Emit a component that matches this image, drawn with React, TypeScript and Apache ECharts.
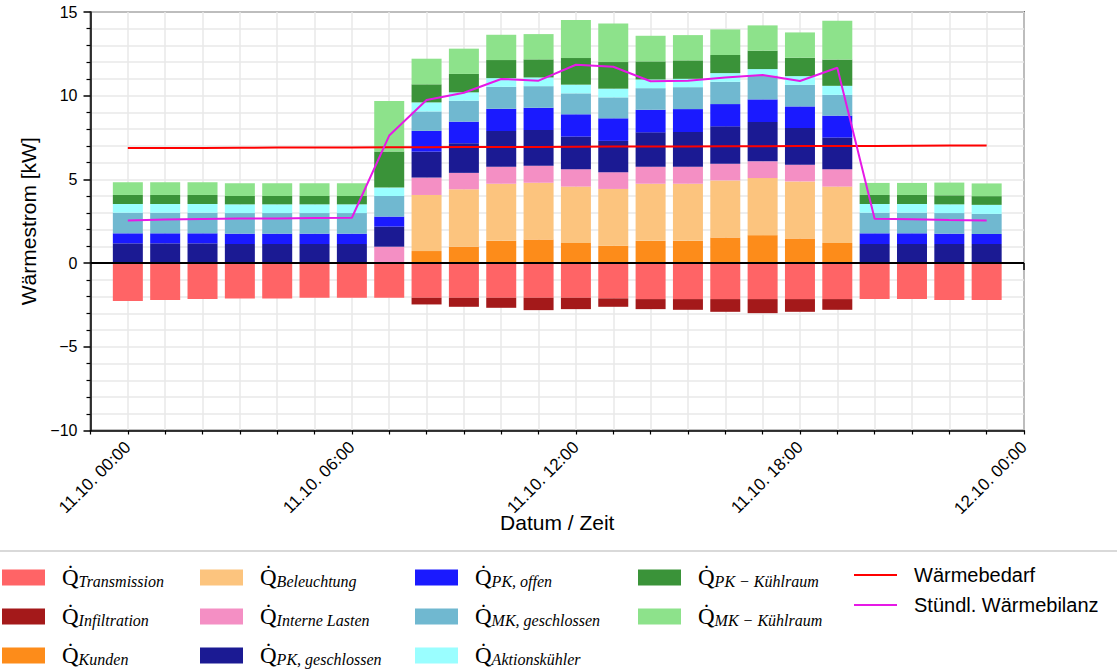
import React, { useEffect, useRef } from "react";
import * as echarts from "echarts";

// Stunden des Tages (11.10.), Balken je Stunde
const hours = [0, 1, 2, 3, 4, 5, 6, 7, 8, 9, 10, 11, 12, 13, 14, 15, 16, 17, 18, 19, 20, 21, 22, 23];

// Wärmeströme in kW
const transmission = [-2.27, -2.21, -2.15, -2.11, -2.11, -2.07, -2.07, -2.07, -2.07, -2.07, -2.07, -2.07, -2.07, -2.11, -2.15, -2.15, -2.15, -2.15, -2.15, -2.15, -2.15, -2.15, -2.21, -2.21];
const infiltration = [0, 0, 0, 0, 0, 0, 0, 0, -0.4, -0.54, -0.6, -0.74, -0.68, -0.5, -0.6, -0.64, -0.76, -0.84, -0.76, -0.64, 0, 0, 0, 0];
const kunden = [0, 0, 0, 0, 0, 0, 0, 0, 0.72, 0.98, 1.33, 1.41, 1.2, 1.04, 1.33, 1.33, 1.53, 1.67, 1.47, 1.2, 0, 0, 0, 0];
const beleuchtung = [0, 0, 0, 0, 0, 0, 0, 0, 3.35, 3.43, 3.41, 3.39, 3.37, 3.39, 3.41, 3.41, 3.41, 3.41, 3.41, 3.37, 0, 0, 0, 0];
const interneLasten = [0, 0, 0, 0, 0, 0, 0, 0.98, 1.04, 0.98, 1.02, 1.02, 1.04, 1.0, 1.02, 1.02, 1.0, 1.0, 1.0, 1.04, 0, 0, 0, 0];
const pkGeschlossen = [1.18, 1.18, 1.18, 1.14, 1.14, 1.14, 1.14, 1.2, 1.55, 1.77, 2.13, 2.13, 1.95, 1.87, 2.05, 2.07, 2.23, 2.35, 2.19, 1.89, 1.14, 1.14, 1.14, 1.14];
const pkOffen = [0.6, 0.6, 0.6, 0.62, 0.62, 0.62, 0.62, 0.6, 1.24, 1.29, 1.33, 1.33, 1.33, 1.35, 1.35, 1.37, 1.33, 1.35, 1.29, 1.31, 0.64, 0.64, 0.62, 0.6];
const mkGeschlossen = [1.23, 1.23, 1.23, 1.23, 1.23, 1.23, 1.23, 1.23, 1.16, 1.25, 1.31, 1.29, 1.25, 1.25, 1.29, 1.31, 1.33, 1.43, 1.29, 1.24, 1.23, 1.23, 1.23, 1.2];
const aktionskuehler = [0.52, 0.52, 0.52, 0.52, 0.52, 0.52, 0.52, 0.5, 0.54, 0.5, 0.52, 0.52, 0.52, 0.52, 0.52, 0.5, 0.52, 0.38, 0.52, 0.54, 0.52, 0.52, 0.52, 0.54];
const pkKuehlraum = [0.54, 0.54, 0.54, 0.5, 0.5, 0.5, 0.5, 2.15, 1.08, 1.1, 1.08, 1.08, 1.59, 1.59, 1.08, 1.1, 1.08, 1.1, 1.1, 1.57, 0.54, 0.54, 0.54, 0.52];
const mkKuehlraum = [0.76, 0.76, 0.76, 0.76, 0.76, 0.76, 0.76, 3.03, 1.53, 1.51, 1.51, 1.51, 2.27, 2.31, 1.53, 1.51, 1.53, 1.51, 1.51, 2.31, 0.72, 0.72, 0.76, 0.76];

const waermebedarf = [6.87, 6.88, 6.88, 6.89, 6.9, 6.9, 6.91, 6.92, 6.92, 6.93, 6.94, 6.94, 6.95, 6.96, 6.96, 6.97, 6.98, 6.98, 6.99, 7.0, 7.0, 7.01, 7.02, 7.03];
const waermebilanz = [2.55, 2.6, 2.63, 2.66, 2.67, 2.69, 2.71, 7.62, 9.74, 10.18, 11.0, 10.9, 11.85, 11.73, 10.86, 10.9, 11.08, 11.24, 10.88, 11.67, 2.65, 2.62, 2.58, 2.55];

// Achsbeschriftung der Zeitachse
const xTickHours = [0, 6, 12, 18, 24];
const xTickLabels = ["11.10. 00:00", "11.10. 06:00", "11.10. 12:00", "11.10. 18:00", "12.10. 00:00"];
const yTickValues = [-10, -5, 0, 5, 10, 15];

// Achse läuft von -1 h bis 24 h (eine Stunde Rand links)
const axisHours = [-1, ...hours, 24];
const axisCategories = axisHours.map(String);
const pad = (v: number[]) => [null, ...v, null];

type BarDef = { name: string; sub: string; color: string; values: number[] };

const barSeriesDefs: BarDef[] = [
  { name: "Transmission", sub: "Transmission", color: "#ff6466", values: transmission },
  { name: "Infiltration", sub: "Infiltration", color: "#a4191a", values: infiltration },
  { name: "Kunden", sub: "Kunden", color: "#fd8c1a", values: kunden },
  { name: "Beleuchtung", sub: "Beleuchtung", color: "#fcc47e", values: beleuchtung },
  { name: "Interne Lasten", sub: "Interne Lasten", color: "#f48fc4", values: interneLasten },
  { name: "PK, geschlossen", sub: "PK, geschlossen", color: "#1b1a93", values: pkGeschlossen },
  { name: "PK, offen", sub: "PK, offen", color: "#1a1aff", values: pkOffen },
  { name: "MK, geschlossen", sub: "MK, geschlossen", color: "#70b8d0", values: mkGeschlossen },
  { name: "Aktionskühler", sub: "Aktionskühler", color: "#9afeff", values: aktionskuehler },
  { name: "PK − Kühlraum", sub: "PK − Kühlraum", color: "#3a9339", values: pkKuehlraum },
  { name: "MK − Kühlraum", sub: "MK − Kühlraum", color: "#8de28b", values: mkKuehlraum },
];

const legendColumns = [
  { left: 2, names: ["Transmission", "Infiltration", "Kunden"] },
  { left: 200, names: ["Beleuchtung", "Interne Lasten", "PK, geschlossen"] },
  { left: 415, names: ["PK, offen", "MK, geschlossen", "Aktionskühler"] },
  { left: 638, names: ["PK − Kühlraum", "MK − Kühlraum"] },
];

const SANS = "'Liberation Sans', Arial, sans-serif";
const SERIF = "'Liberation Serif', 'Times New Roman', serif";

const isMajorHour = (idx: number) => xTickHours.indexOf(axisHours[idx]) >= 0;

export default function App() {
  const ref = useRef<HTMLDivElement>(null);

  useEffect(() => {
    if (!ref.current) return;
    const chart = echarts.init(ref.current, undefined, { renderer: "svg" });

    const bars = barSeriesDefs.map((d) => ({
      name: d.name,
      type: "bar",
      stack: "q",
      barWidth: 30,
      xAxisIndex: 0,
      yAxisIndex: 0,
      itemStyle: { color: d.color },
      data: pad(d.values),
      z: 2,
    }));

    const mathLegend = (col: { left: number; names: string[] }) => ({
      orient: "vertical",
      left: col.left,
      top: 566,
      padding: 0,
      itemWidth: 43,
      itemHeight: 16,
      itemGap: 16,
      icon: "rect",
      selectedMode: false,
      data: col.names,
      formatter: (name: string) => {
        const def = barSeriesDefs.find((d) => d.name === name);
        return `{q|Q\u0307}{s|${def ? def.sub : name}}`;
      },
      textStyle: {
        color: "#000",
        rich: {
          q: { fontFamily: SERIF, fontSize: 23, padding: [0, 0, 0, 12], color: "#000" },
          s: {
            fontFamily: SERIF,
            fontStyle: "italic",
            fontSize: 16,
            color: "#000",
            verticalAlign: "bottom",
            lineHeight: 11,
          },
        },
      },
    });

    const option: any = {
      animation: false,
      backgroundColor: "#fff",
      grid: {
        left: 90.5,
        right: 93,
        top: 12,
        bottom: 238.5,
        show: true,
        borderColor: "#000",
        borderWidth: 1.5,
        backgroundColor: "transparent",
      },
      legend: [
        ...legendColumns.map(mathLegend),
        {
          orient: "vertical",
          left: 854,
          top: 565,
          padding: 0,
          itemWidth: 43,
          itemHeight: 2,
          itemGap: 10,
          icon: "rect",
          selectedMode: false,
          data: ["Wärmebedarf", "Stündl. Wärmebilanz"],
          formatter: (name: string) => `{t|${name}}`,
          textStyle: {
            rich: { t: { fontFamily: SANS, fontSize: 20, color: "#000", padding: [0, 0, 0, 12] } },
          },
        },
      ],
      xAxis: [
        {
          type: "category",
          data: axisCategories,
          boundaryGap: false,
          name: "Datum / Zeit",
          nameLocation: "middle",
          nameGap: 81,
          nameMoveOverlap: false,
          nameTextStyle: { fontFamily: SANS, fontSize: 21, color: "#000" },
          axisLine: { show: true, onZero: false, lineStyle: { color: "#000", width: 1.5 } },
          axisTick: { show: true, interval: 0, length: 4, lineStyle: { color: "#000", width: 1.2 } },
          axisLabel: {
            show: true,
            interval: (idx: number) => isMajorHour(idx),
            rotate: 45,
            margin: 14,
            fontFamily: SANS,
            fontSize: 17,
            color: "#000",
            formatter: (v: string) => {
              const k = xTickHours.indexOf(Number(v));
              return k >= 0 ? xTickLabels[k] : "";
            },
          },
          splitLine: { show: true, interval: 0, lineStyle: { color: "#e8e8e8", width: 1.5 } },
        },
        {
          type: "category",
          data: axisCategories,
          boundaryGap: false,
          position: "bottom",
          offset: 0,
          axisLine: { show: false },
          axisTick: {
            show: true,
            length: 7,
            interval: (idx: number) => isMajorHour(idx),
            lineStyle: { color: "#000", width: 1.5 },
          },
          axisLabel: { show: false },
          splitLine: { show: false },
        },
      ],
      yAxis: {
        type: "value",
        min: -10,
        max: 15,
        interval: 5,
        name: "Wärmestrom [kW]",
        nameLocation: "middle",
        nameGap: 44,
        nameRotate: 90,
        nameTextStyle: { fontFamily: SANS, fontSize: 21, color: "#000" },
        axisLine: { show: true, onZero: false, lineStyle: { color: "#000", width: 1.5 } },
        axisTick: { show: true, length: 7, lineStyle: { color: "#000", width: 1.5 } },
        minorTick: { show: true, splitNumber: 5, length: 4, lineStyle: { color: "#000", width: 1.2 } },
        axisLabel: {
          customValues: yTickValues,
          margin: 13,
          fontFamily: SANS,
          fontSize: 16,
          color: "#000",
          formatter: (v: number) => String(v).replace("-", "\u2212"),
        },
        splitLine: { show: true, lineStyle: { color: "#e8e8e8", width: 1.5 } },
        minorSplitLine: { show: true, lineStyle: { color: "#e8e8e8", width: 1.5 } },
      },
      series: [
        ...bars,
        {
          name: "Wärmebedarf",
          type: "line",
          xAxisIndex: 0,
          yAxisIndex: 0,
          symbol: "none",
          lineStyle: { color: "#ff0000", width: 2 },
          itemStyle: { color: "#ff0000" },
          data: pad(waermebedarf),
          z: 4,
        },
        {
          name: "Stündl. Wärmebilanz",
          type: "line",
          xAxisIndex: 0,
          yAxisIndex: 0,
          symbol: "none",
          lineStyle: { color: "#e619e6", width: 2 },
          itemStyle: { color: "#e619e6" },
          data: pad(waermebilanz),
          z: 5,
          markLine: {
            silent: true,
            symbol: "none",
            label: { show: false },
            lineStyle: { color: "#000", width: 2, type: "solid" },
            data: [{ yAxis: 0 }],
          },
        },
      ],
      graphic: [
        {
          type: "line",
          shape: { x1: 0, y1: 551, x2: 1117, y2: 551 },
          style: { stroke: "#d9d9d9", lineWidth: 2 },
          silent: true,
        },
      ],
    };

    chart.setOption(option);
    return () => chart.dispose();
  }, []);

  return (
    <div
      ref={ref}
      style={{ position: "absolute", left: 0, top: 0, width: 1117, height: 669, background: "#fff" }}
    />
  );
}
